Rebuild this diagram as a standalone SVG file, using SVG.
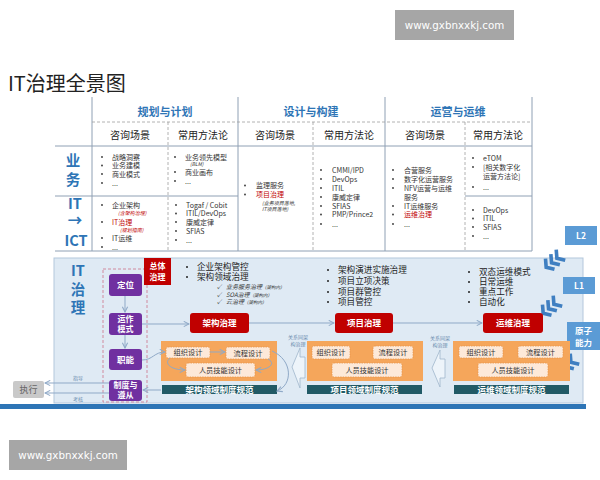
<svg xmlns="http://www.w3.org/2000/svg" width="600" height="480" viewBox="0 0 600 480">
<defs>
<style>
.f{font-family:"Noto Sans CJK SC","Noto Sans",sans-serif}
.it{font-size:7px;fill:#333}
.rd{fill:#c00000}
.nt{font-size:5px;font-style:italic}
.hd{font-size:11px;font-weight:bold;fill:#2e75b6;text-anchor:middle}
.sh{font-size:10px;fill:#222;text-anchor:middle}
.lb{font-size:14.5px;font-weight:bold;fill:#2e75b6;text-anchor:middle}
.wt{font-size:8.5px;font-weight:bold;fill:#fff;text-anchor:middle}
.w2{font-size:8px}
.bl{font-size:8.6px;fill:#222}
.ck{font-size:6px;font-style:italic;fill:#333}
.sm{font-size:4.5px}
.og{font-size:7.2px;fill:#333;text-anchor:middle}
.tl{stroke:#8fa0b4;stroke-width:1;fill:none}
.td{stroke:#a0a0a0;stroke-width:0.8;stroke-dasharray:3,2;fill:none}
.pu{fill:#7030a0}
.rb{fill:#c00000}
.ob{fill:#f5a65b}
.ib{fill:#fde9d9;stroke:#e8954a;stroke-width:0.8;stroke-dasharray:1.5,1}
.tb{fill:#215a66}
.cn{stroke:#8fa9c7;stroke-width:1;fill:none;marker-end:url(#ah)}
.lv{fill:#5b9bd5}
.ch{stroke:#3f7fc1;stroke-width:3.6;fill:none;stroke-linejoin:miter}
.wm{fill:#a6a6a6}
.wmt{font-family:"DejaVu Sans",sans-serif;font-size:10.3px;fill:#fff;text-anchor:middle}
.tn{font-size:5px;fill:#6a8cae;text-anchor:middle}
</style>
<marker id="ah" viewBox="0 0 8 8" refX="7" refY="4" markerWidth="7" markerHeight="7" orient="auto" markerUnits="userSpaceOnUse">
<path d="M1,1 L7,4 L1,7" fill="none" stroke="#8fa9c7" stroke-width="1.2"/>
</marker>
<g id="chev">
<path class="ch" d="M0,-7 L-5,0 L0,7"/>
<path class="ch" d="M7,-7 L2,0 L7,7"/>
<path class="ch" d="M14,-7 L9,0 L14,7"/>
</g>
</defs>
<rect width="600" height="480" fill="#fff"/>

<g id="watermark-top">
<rect class="wm" x="395" y="10" width="119" height="30"/>
<text class="wmt" x="454.5" y="29">www.gxbnxxkj.com</text>
</g>
<g id="watermark-bottom">
<rect class="wm" x="9" y="440" width="118" height="30"/>
<text class="wmt" x="68" y="459">www.gxbnxxkj.com</text>
</g>

<text class="f" x="8" y="91" font-size="20" fill="#222">IT治理全景图</text>

<g id="table" class="f">
<path class="tl" d="M92,97V251 M238,97V251 M385,97V251 M532,97V251 M55,146H532 M55,196H238 M465,196H532 M55,251H532"/>
<path class="td" d="M92,122H532 M168,122V251 M313,122V251 M465,122V251"/>
<text class="hd" x="165" y="116">规划与计划</text>
<text class="hd" x="311" y="116">设计与构建</text>
<text class="hd" x="458" y="116">运营与运维</text>
<text class="sh" x="130" y="138.5">咨询场景</text>
<text class="sh" x="203" y="138.5">常用方法论</text>
<text class="sh" x="275" y="138.5">咨询场景</text>
<text class="sh" x="349" y="138.5">常用方法论</text>
<text class="sh" x="425" y="138.5">咨询场景</text>
<text class="sh" x="498" y="138.5">常用方法论</text>
<text class="lb" x="73" y="166">业</text>
<text class="lb" x="73" y="185">务</text>
<text class="lb" x="75" y="208.5">IT</text>
<text class="lb" x="75" y="226">→</text>
<text class="lb" x="76" y="245.5">ICT</text>
</g>

<g id="cells" class="f">
<g fill="#333">
<circle cx="102" cy="157" r="0.9"/><circle cx="102" cy="165.5" r="0.9"/><circle cx="102" cy="174" r="0.9"/><circle cx="102" cy="183" r="0.9"/>
<circle cx="175" cy="157" r="0.9"/><circle cx="175" cy="172" r="0.9"/><circle cx="175" cy="181" r="0.9"/>
<circle cx="102" cy="205" r="0.9"/><circle cx="102" cy="222" r="0.9"/><circle cx="102" cy="238" r="0.9"/><circle cx="102" cy="247" r="0.9"/>
<circle cx="176" cy="205" r="0.9"/><circle cx="176" cy="213.5" r="0.9"/><circle cx="176" cy="222" r="0.9"/><circle cx="176" cy="231" r="0.9"/><circle cx="176" cy="240" r="0.9"/>
<circle cx="245" cy="185.5" r="0.9"/><circle cx="245" cy="194.5" r="0.9"/>
<circle cx="321" cy="170" r="0.9"/><circle cx="321" cy="179" r="0.9"/><circle cx="321" cy="188" r="0.9"/><circle cx="321" cy="197" r="0.9"/><circle cx="321" cy="206" r="0.9"/><circle cx="321" cy="214.5" r="0.9"/><circle cx="321" cy="224" r="0.9"/>
<circle cx="393" cy="170" r="0.9"/><circle cx="393" cy="179" r="0.9"/><circle cx="393" cy="188" r="0.9"/><circle cx="393" cy="206" r="0.9"/><circle cx="393" cy="214.5" r="0.9"/><circle cx="393" cy="224" r="0.9"/>
<circle cx="473" cy="158" r="0.9"/><circle cx="473" cy="167" r="0.9"/><circle cx="473" cy="187" r="0.9"/>
<circle cx="473" cy="210" r="0.9"/><circle cx="473" cy="218.5" r="0.9"/><circle cx="473" cy="227" r="0.9"/><circle cx="473" cy="236" r="0.9"/>
</g>
<text class="it" x="112" y="159.5">战略洞察</text>
<text class="it" x="112" y="168">业务建模</text>
<text class="it" x="112" y="176.5">商业模式</text>
<text class="it" x="112" y="185.5">...</text>
<text class="it" x="185" y="159.5">业务领先模型</text>
<text class="it nt" x="190" y="166.3">(BLM)</text>
<text class="it" x="185" y="174.5">商业画布</text>
<text class="it" x="185" y="183.5">...</text>
<text class="it" x="112" y="207.5">企业架构</text>
<text class="it nt rd" x="118" y="215">(含架构治理)</text>
<text class="it rd" x="112" y="224.5">IT治理</text>
<text class="it nt rd" x="120" y="232">(规划指南)</text>
<text class="it" x="112" y="240.5">IT运维</text>
<text class="it" x="112" y="249.5">...</text>
<text class="it" x="186" y="207.5">Togaf / Cobit</text>
<text class="it" x="186" y="216">ITIL/DevOps</text>
<text class="it" x="186" y="224.5">康威定律</text>
<text class="it" x="186" y="233.5">SFIAS</text>
<text class="it" x="186" y="242.5">...</text>
<text class="it" x="256" y="188">监理服务</text>
<text class="it rd" x="256" y="197">项目治理</text>
<text class="it nt" x="262" y="204.8" fill="#555">(业务项目落地,</text>
<text class="it nt" x="262" y="211" fill="#555">IT项目落地)</text>
<text class="it" x="332" y="172.5">CMMI/IPD</text>
<text class="it" x="332" y="181.5">DevOps</text>
<text class="it" x="332" y="190.5">ITIL</text>
<text class="it" x="332" y="199.5">康威定律</text>
<text class="it" x="332" y="208.5">SFIAS</text>
<text class="it" x="332" y="217">PMP/Prince2</text>
<text class="it" x="332" y="226.5">...</text>
<text class="it" x="404" y="172.5">合营服务</text>
<text class="it" x="404" y="181.5">数字化运营服务</text>
<text class="it" x="404" y="190.5">NFV运营与运维</text>
<text class="it" x="404" y="199.5">服务</text>
<text class="it" x="404" y="208.5">IT运维服务</text>
<text class="it rd" x="404" y="217">运维治理</text>
<text class="it" x="404" y="226.5">...</text>
<text class="it" x="483" y="160.5">eTOM</text>
<text class="it" x="483" y="169.5">[相关数字化</text>
<text class="it" x="483" y="178.5">运营方法论]</text>
<text class="it" x="483" y="189.5">...</text>
<text class="it" x="483" y="212.5">DevOps</text>
<text class="it" x="483" y="221">ITIL</text>
<text class="it" x="483" y="229.5">SFIAS</text>
<text class="it" x="483" y="238.5">...</text>
</g>

<g id="level-l2" class="f">
<rect class="lv" x="565" y="226" width="32" height="19"/>
<text class="wt" x="581" y="238.5" font-size="9">L2</text>
</g>

<rect id="panel" x="54" y="258" width="529" height="145" fill="#dfeaf4" stroke="#b4c7dc"/>
<rect id="bluebar" x="0" y="404" width="586" height="5" fill="#2e75b6"/>

<use href="#chev" transform="translate(550,264) rotate(-40)"/>
<use href="#chev" transform="translate(547,310) rotate(-40)"/>
<use href="#chev" transform="translate(564,368) rotate(-40)"/>

<g id="level-l1" class="f">
<rect class="lv" x="563" y="277" width="32" height="17"/>
<text class="wt" x="579" y="288.5" font-size="9">L1</text>
</g>
<g id="level-atom" class="f">
<rect class="lv" x="567" y="322" width="33" height="28"/>
<text class="wt" x="583.5" y="333.5" font-size="10">原子</text>
<text class="wt" x="583.5" y="346" font-size="10">能力</text>
</g>

<g id="it-gov-label" class="f">
<text class="lb" x="78" y="276">IT</text>
<text class="lb" x="78" y="295">治</text>
<text class="lb" x="78" y="313">理</text>
</g>

<rect id="purple-frame" x="103" y="269" width="44" height="133" fill="none" stroke="#d08a9e" stroke-dasharray="3,2"/>

<g id="n-dingwei" class="f"><rect class="pu" x="109" y="274" width="33" height="22" rx="3"/><text class="wt" x="125.5" y="288">定位</text></g>
<g id="n-yunzuo" class="f"><rect class="pu" x="109" y="313" width="33" height="22" rx="3"/><text class="wt w2" x="125.5" y="321.8">运作</text><text class="wt w2" x="125.5" y="332">模式</text></g>
<g id="n-zhineng" class="f"><rect class="pu" x="109" y="349" width="33" height="21" rx="3"/><text class="wt" x="125.5" y="362.5">职能</text></g>
<g id="n-zhidu" class="f"><rect class="pu" x="109" y="380" width="33" height="21" rx="3"/><text class="wt w2" x="125.5" y="388">制度与</text><text class="wt w2" x="125.5" y="398.2">遵从</text></g>

<g id="n-zhixing" class="f"><rect x="13" y="381" width="31" height="17" rx="2" fill="#c9c9c9"/><text x="28.5" y="392.5" font-size="9" fill="#666" text-anchor="middle">执行</text></g>

<g id="n-zongti" class="f"><rect class="rb" x="144" y="258" width="27" height="27"/><text class="wt w2" x="157.5" y="269">总体</text><text class="wt w2" x="157.5" y="280">治理</text></g>

<g id="txt-overall" class="f">
<circle cx="187" cy="267" r="1" fill="#222"/><circle cx="187" cy="277" r="1" fill="#222"/>
<text class="bl" x="197" y="270">企业架构管控</text>
<text class="bl" x="197" y="280">架构领域治理</text>
<text class="ck" x="217" y="289">✓</text><text class="ck" x="226" y="289">业务服务治理<tspan class="sm">（架构内）</tspan></text>
<text class="ck" x="217" y="296.5">✓</text><text class="ck" x="226" y="296.5">SOA治理<tspan class="sm">（架构内）</tspan></text>
<text class="ck" x="217" y="304">✓</text><text class="ck" x="226" y="304">云治理<tspan class="sm">（架构内）</tspan></text>
</g>
<g id="txt-project" class="f">
<circle cx="328" cy="270" r="1" fill="#222"/><circle cx="328" cy="281" r="1" fill="#222"/><circle cx="328" cy="292" r="1" fill="#222"/><circle cx="328" cy="302" r="1" fill="#222"/>
<text class="bl" x="338" y="273">架构演进实施治理</text>
<text class="bl" x="338" y="284">项目立项决策</text>
<text class="bl" x="338" y="295">项目群管控</text>
<text class="bl" x="338" y="305">项目管控</text>
</g>
<g id="txt-ops" class="f">
<circle cx="469" cy="272" r="1" fill="#222"/><circle cx="469" cy="282" r="1" fill="#222"/><circle cx="469" cy="292" r="1" fill="#222"/><circle cx="469" cy="302" r="1" fill="#222"/>
<text class="bl" x="479" y="275">双态运维模式</text>
<text class="bl" x="479" y="285">日常运维</text>
<text class="bl" x="479" y="295">重点工作</text>
<text class="bl" x="479" y="305">自动化</text>
</g>

<g id="n-arch-gov" class="f"><rect class="rb" x="190" y="313" width="59" height="20" rx="3"/><text class="wt" x="219.5" y="326.3" font-size="9">架构治理</text></g>
<g id="n-proj-gov" class="f"><rect class="rb" x="335" y="313" width="58" height="20" rx="3"/><text class="wt" x="364" y="326.3" font-size="9">项目治理</text></g>
<g id="n-ops-gov" class="f"><rect class="rb" x="483" y="313" width="60" height="20" rx="3"/><text class="wt" x="513" y="326.3" font-size="9">运维治理</text></g>

<g id="n-arch-domain" class="f">
<rect class="ob" x="161" y="341" width="116" height="40"/>
<rect class="ib" x="166" y="347" width="44" height="11" rx="2"/><text class="og" x="188" y="355">组织设计</text>
<rect class="ib" x="226" y="347" width="44" height="12" rx="2"/><text class="og" x="248" y="355.5">流程设计</text>
<rect class="ib" x="186" y="363" width="69" height="14" rx="2"/><text class="og" x="220.5" y="372.5">人员技能设计</text>
<rect class="tb" x="162" y="385" width="115" height="9"/><text class="wt" x="219.5" y="392.6" font-size="8">架构领域制度规范</text>
</g>
<g id="n-proj-domain" class="f">
<rect class="ob" x="307" y="341" width="116" height="40"/>
<rect class="ib" x="312" y="346" width="38" height="13" rx="2"/><text class="og" x="331" y="355">组织设计</text>
<rect class="ib" x="373" y="346" width="40" height="13" rx="2"/><text class="og" x="393" y="355">流程设计</text>
<rect class="ib" x="332" y="363" width="70" height="14" rx="2"/><text class="og" x="367" y="372.5">人员技能设计</text>
<rect class="tb" x="307" y="385" width="115" height="9"/><text class="wt" x="364.5" y="392.6" font-size="8">项目领域制度规范</text>
</g>
<g id="n-ops-domain" class="f">
<rect class="ob" x="453" y="341" width="117" height="40"/>
<rect class="ib" x="459" y="346" width="44" height="12" rx="2"/><text class="og" x="481" y="354.5">组织设计</text>
<rect class="ib" x="518" y="346" width="45" height="12" rx="2"/><text class="og" x="540.5" y="354.5">流程设计</text>
<rect class="ib" x="478" y="363" width="70" height="14" rx="2"/><text class="og" x="513" y="372.5">人员技能设计</text>
<rect class="tb" x="454" y="385" width="115" height="9"/><text class="wt" x="511.5" y="392.6" font-size="8">运维领域制度规范</text>
</g>

<g id="connectors" class="f">
<path class="cn" d="M125,296V312"/>
<path class="cn" d="M125,335V348"/>
<path class="cn" d="M142,324H189"/>
<path class="cn" d="M249,323H334"/>
<path class="cn" d="M393,323H482"/>
<path class="cn" d="M142,360C153,360 154,352 165,352"/>
<path class="cn" d="M210,352H225"/>
<path class="cn" d="M170,358C163,364 172,370 185,370"/>
<path class="cn" d="M268,359C277,364 268,370 256,370"/>
<path class="cn" d="M272,351C293,360 293,385 277,391"/>
<path class="cn" d="M161,390H143"/>
<path class="cn" d="M109,383H45"/>
<path class="cn" d="M109,393H45"/>
<text class="tn" x="78" y="379.5">指导</text>
<text class="tn" x="78" y="400.5">考核</text>
<polygon points="292,367 300,348 300,357 305,357 305,378 300,378 300,388" fill="#edf4fa" stroke="#9fb6cc" stroke-width="0.8"/>
<text class="tn" x="298" y="338.5">关系同架</text>
<text class="tn" x="298" y="345.5">构治理</text>
<polygon points="432,368 440,350 440,359 445,359 445,378 440,378 440,387" fill="#edf4fa" stroke="#9fb6cc" stroke-width="0.8"/>
<text class="tn" x="440" y="340">关系同架</text>
<text class="tn" x="440" y="347">构治理</text>
</g>
</svg>
